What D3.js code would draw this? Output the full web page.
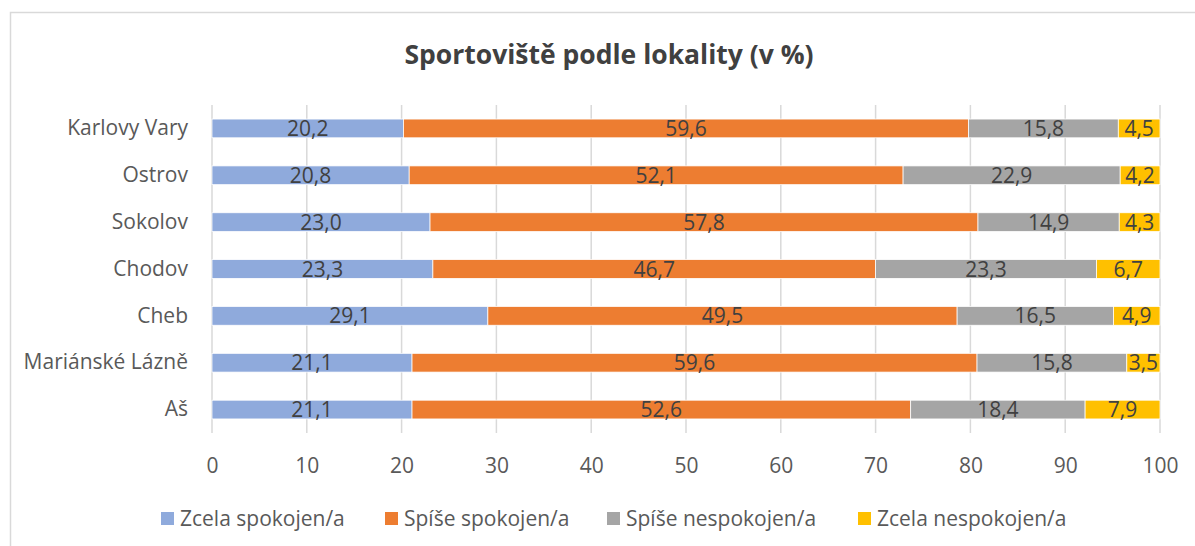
<!DOCTYPE html>
<html>
<head>
<meta charset="utf-8">
<script src="https://cdn.jsdelivr.net/npm/d3@7"></script>
<style>
  html, body { margin: 0; padding: 0; background: #fff; }
  svg { display: block; font-family: "Open Sans", "Noto Sans", sans-serif; }
</style>
</head>
<body>
<svg id="chart" width="1195" height="546"></svg>
<script>
// Locations, top to bottom
const categories = ["Karlovy Vary", "Ostrov", "Sokolov", "Chodov", "Cheb", "Mariánské Lázně", "Aš"];
// Satisfaction shares (%) per location
const zcelaSpokojen   = [20.2, 20.8, 23.0, 23.3, 29.1, 21.1, 21.1];
const spiseSpokojen   = [59.6, 52.1, 57.8, 46.7, 49.5, 59.6, 52.6];
const spiseNespokojen = [15.8, 22.9, 14.9, 23.3, 16.5, 15.8, 18.4];
const zcelaNespokojen = [4.5, 4.2, 4.3, 6.7, 4.9, 3.5, 7.9];
const seriesNames = ["Zcela spokojen/a", "Spíše spokojen/a", "Spíše nespokojen/a", "Zcela nespokojen/a"];
const xTicks = [0, 10, 20, 30, 40, 50, 60, 70, 80, 90, 100];
const colors = ["#8FAADC", "#ED7D31", "#A5A5A5", "#FFC000"];

const seriesValues = [zcelaSpokojen, spiseSpokojen, spiseNespokojen, zcelaNespokojen];
const rows = categories.map((c, i) => {
  const r = { cat: c };
  seriesNames.forEach((s, k) => r[s] = seriesValues[k][i]);
  return r;
});
const stacked = d3.stack().keys(seriesNames)(rows);

const svg = d3.select("#chart");
const margin = { left: 212, right: 35, top: 105, bottom: 113 };
const W = 1195, H = 546;
const FS = 21;

// Outer chart frame
svg.append("rect")
  .attr("x", 10.5).attr("y", 12.5)
  .attr("width", W + 10).attr("height", H + 10)
  .attr("fill", "#fff").attr("stroke", "#d9d9d9").attr("stroke-width", 1.5);

// Title
svg.append("text")
  .attr("x", 609).attr("y", 64)
  .attr("text-anchor", "middle")
  .attr("font-size", 26.5).attr("font-weight", 700)
  .attr("fill", "#404040")
  .text("Sportoviště podle lokality (v %)");

const x = d3.scaleLinear().domain([0, 100]).range([margin.left, W - margin.right]);
const y = d3.scaleBand().domain(categories).range([margin.top, H - margin.bottom]).paddingInner(0.6).paddingOuter(0.3);

// Vertical gridlines
svg.append("g").selectAll("line").data(xTicks).join("line")
  .attr("x1", d => x(d)).attr("x2", d => x(d))
  .attr("y1", margin.top).attr("y2", H - margin.bottom)
  .attr("stroke", "#d9d9d9").attr("stroke-width", 1.5);

// X axis tick labels
const xAxis = d3.axisBottom(x).tickValues(xTicks).tickSize(0).tickPadding(25);
const gx = svg.append("g").attr("transform", `translate(0,${H - margin.bottom})`).call(xAxis);
gx.select(".domain").remove();
gx.selectAll("text").attr("font-size", FS).attr("fill", "#595959").attr("font-family", "Open Sans, sans-serif");

// Y axis category labels
const yAxis = d3.axisLeft(y).tickSize(0).tickPadding(24);
const gy = svg.append("g").attr("transform", `translate(${margin.left},0)`).call(yAxis);
gy.select(".domain").remove();
gy.selectAll("text").attr("font-size", FS).attr("fill", "#595959").attr("font-family", "Open Sans, sans-serif");

// Stacked bars
const layers = svg.append("g").selectAll("g").data(stacked).join("g")
  .attr("fill", (d, i) => colors[i]);
layers.selectAll("rect").data(d => d).join("rect")
  .attr("x", d => x(d[0]))
  .attr("y", d => y(d.data.cat))
  .attr("width", d => Math.min(x(d[1]), x(100)) - x(d[0]))
  .attr("height", y.bandwidth())
  .attr("stroke", "#fff").attr("stroke-width", 0.75);

// Value labels
const labels = svg.append("g").selectAll("g").data(stacked).join("g");
labels.selectAll("text").data(d => d.map(v => ({ v, key: d.key }))).join("text")
  .attr("x", d => (x(d.v[0]) + Math.min(x(d.v[1]), x(100))) / 2)
  .attr("y", d => y(d.v.data.cat) + y.bandwidth() / 2)
  .attr("dy", "0.36em")
  .attr("text-anchor", "middle")
  .attr("font-size", FS).attr("fill", "#404040")
  .text(d => d.v.data[d.key].toFixed(1).replace(".", ","));

// Legend
const legendX = [161, 385, 607, 858];
const legend = svg.append("g").selectAll("g").data(seriesNames).join("g")
  .attr("transform", (d, i) => `translate(${legendX[i]},518.5)`);
legend.append("rect").attr("x", 0).attr("y", -6.5).attr("width", 13).attr("height", 13)
  .attr("fill", (d, i) => colors[i]);
legend.append("text").attr("x", 19).attr("y", 0).attr("dy", "0.36em")
  .attr("font-size", FS).attr("fill", "#595959")
  .text(d => d);
</script>
</body>
</html>
